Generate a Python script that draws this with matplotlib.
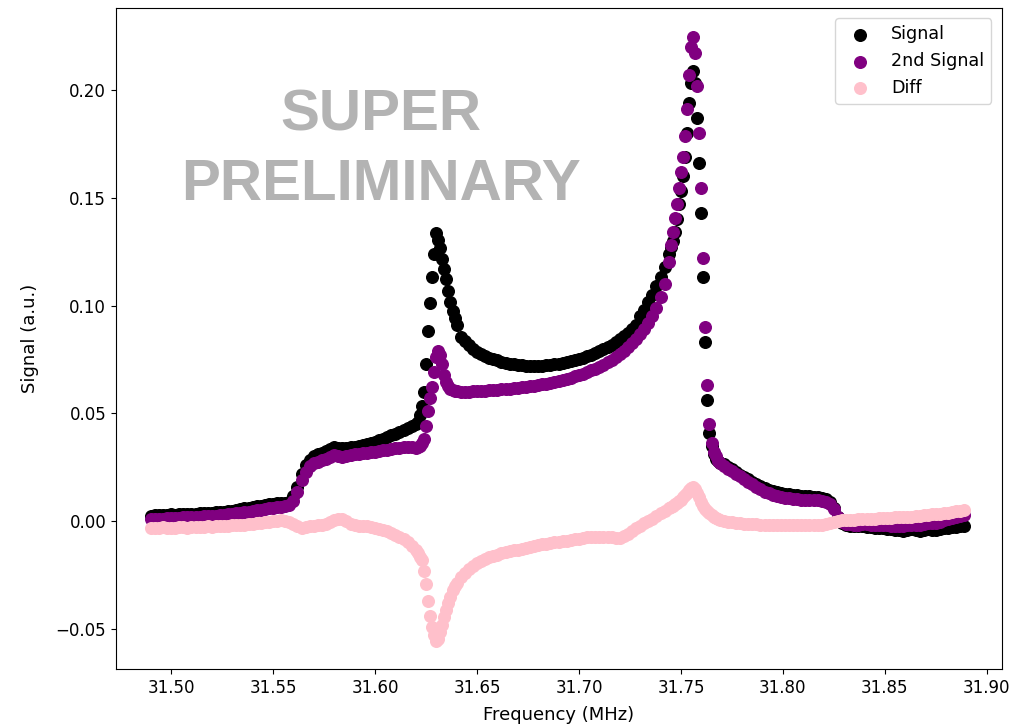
import numpy as np
import matplotlib
matplotlib.use("Agg")
import matplotlib.pyplot as plt

# frequency grid (MHz): coarse where flat, fine around the two resonances
freq = np.round(np.concatenate([
    np.arange(31.490, 31.6201, 0.002),   # 66
    np.arange(31.621, 31.6401, 0.001),   # 20
    np.arange(31.642, 31.7441, 0.002),   # 52
    np.arange(31.745, 31.7691, 0.001),   # 25
    np.arange(31.771, 31.8891, 0.002),   # 60
]), 3)

signal = [
    # 31.490 - 31.620
    0.0025, 0.0027, 0.0028, 0.0029, 0.0030, 0.0031, 0.0030, 0.0032, 0.0033, 0.0032,
    0.0034, 0.0035, 0.0036, 0.0037, 0.0036, 0.0038, 0.0040, 0.0042, 0.0043, 0.0045,
    0.0048, 0.0052, 0.0056, 0.0060, 0.0063, 0.0066, 0.0069, 0.0072, 0.0075, 0.0078,
    0.0080, 0.0082, 0.0084, 0.0086, 0.0090, 0.0115, 0.0160, 0.0220, 0.0260, 0.0285,
    0.0300, 0.0310, 0.0318, 0.0325, 0.0335, 0.0345, 0.0340, 0.0338, 0.0340, 0.0342,
    0.0345, 0.0348, 0.0352, 0.0356, 0.0362, 0.0368, 0.0374, 0.0382, 0.0390, 0.0398,
    0.0405, 0.0413, 0.0422, 0.0430, 0.0440, 0.0450,
    # 31.621 - 31.640
    0.0460, 0.0490, 0.0535, 0.0600, 0.0730, 0.0880, 0.1010, 0.1130, 0.1240, 0.1336,
    0.1305, 0.1265, 0.1215, 0.1170, 0.1125, 0.1065, 0.1015, 0.0975, 0.0940, 0.0910,
    # 31.642 - 31.744
    0.0855, 0.0835, 0.0815, 0.0800, 0.0785, 0.0775, 0.0765, 0.0757, 0.0750, 0.0745,
    0.0740, 0.0735, 0.0730, 0.0727, 0.0724, 0.0722, 0.0720, 0.0720, 0.0719, 0.0720,
    0.0721, 0.0722, 0.0724, 0.0727, 0.0730, 0.0733, 0.0737, 0.0742, 0.0747, 0.0752,
    0.0758, 0.0765, 0.0772, 0.0780, 0.0788, 0.0797, 0.0807, 0.0818, 0.0830, 0.0843,
    0.0857, 0.0872, 0.0890, 0.0910, 0.0950, 0.0980, 0.1015, 0.1050, 0.1090, 0.1130,
    0.1180, 0.1240,
    # 31.745 - 31.769
    0.1270, 0.1300, 0.1340, 0.1400, 0.1470, 0.1530, 0.1600, 0.1690, 0.1800, 0.1940,
    0.2030, 0.2090, 0.2030, 0.1870, 0.1660, 0.1430, 0.1130, 0.0830, 0.0560, 0.0410,
    0.0350, 0.0310, 0.0290, 0.0280, 0.0270,
    # 31.771 - 31.889
    0.0265, 0.0253, 0.0240, 0.0228, 0.0216, 0.0204, 0.0193, 0.0182, 0.0172, 0.0162,
    0.0153, 0.0146, 0.0140, 0.0135, 0.0130, 0.0127, 0.0124, 0.0122, 0.0120, 0.0118,
    0.0117, 0.0115, 0.0113, 0.0111, 0.0108, 0.0104, 0.0090, 0.0060, 0.0020, -0.0010,
    -0.0020, -0.0022, -0.0024, -0.0025, -0.0024, -0.0026, -0.0028, -0.0030, -0.0032, -0.0034,
    -0.0036, -0.0038, -0.0040, -0.0042, -0.0044, -0.0040, -0.0038, -0.0042, -0.0045, -0.0040,
    -0.0036, -0.0040, -0.0043, -0.0038, -0.0034, -0.0030, -0.0028, -0.0026, -0.0025, -0.0022,
]

signal2 = [
    # 31.490 - 31.620
    0.0008, 0.0010, 0.0011, 0.0012, 0.0013, 0.0014, 0.0015, 0.0016, 0.0017, 0.0018,
    0.0019, 0.0020, 0.0021, 0.0022, 0.0023, 0.0024, 0.0026, 0.0028, 0.0030, 0.0032,
    0.0034, 0.0036, 0.0038, 0.0041, 0.0044, 0.0047, 0.0050, 0.0053, 0.0056, 0.0059,
    0.0062, 0.0065, 0.0067, 0.0069, 0.0075, 0.0095, 0.0135, 0.0190, 0.0230, 0.0255,
    0.0268, 0.0276, 0.0283, 0.0290, 0.0297, 0.0305, 0.0300, 0.0298, 0.0302, 0.0306,
    0.0309, 0.0312, 0.0314, 0.0316, 0.0319, 0.0322, 0.0325, 0.0328, 0.0331, 0.0334,
    0.0337, 0.0340, 0.0343, 0.0344, 0.0343, 0.0341,
    # 31.621 - 31.640
    0.0345, 0.0350, 0.0360, 0.0380, 0.0440, 0.0510, 0.0570, 0.0620, 0.0690, 0.0760,
    0.0790, 0.0770, 0.0730, 0.0680, 0.0645, 0.0625, 0.0615, 0.0610, 0.0605, 0.0602,
    # 31.642 - 31.744
    0.0600, 0.0600, 0.0601, 0.0602, 0.0603, 0.0604, 0.0605, 0.0606, 0.0607, 0.0609,
    0.0611, 0.0613, 0.0615, 0.0617, 0.0619, 0.0621, 0.0623, 0.0625, 0.0628, 0.0631,
    0.0634, 0.0637, 0.0641, 0.0645, 0.0650, 0.0655, 0.0660, 0.0665, 0.0671, 0.0677,
    0.0684, 0.0691, 0.0699, 0.0707, 0.0716, 0.0726, 0.0737, 0.0749, 0.0762, 0.0776,
    0.0791, 0.0808, 0.0826, 0.0846, 0.0868, 0.0892, 0.0918, 0.0950, 0.0990, 0.1040,
    0.1100, 0.1200,
    # 31.745 - 31.769
    0.1280, 0.1340, 0.1405, 0.1470, 0.1545, 0.1620, 0.1690, 0.1786, 0.1910, 0.2070,
    0.2200, 0.2245, 0.2170, 0.2020, 0.1800, 0.1545, 0.1220, 0.0900, 0.0630, 0.0450,
    0.0360, 0.0320, 0.0300, 0.0280, 0.0270,
    # 31.771 - 31.889
    0.0255, 0.0243, 0.0231, 0.0219, 0.0207, 0.0194, 0.0182, 0.0170, 0.0158, 0.0147,
    0.0137, 0.0129, 0.0122, 0.0117, 0.0112, 0.0108, 0.0105, 0.0103, 0.0101, 0.0100,
    0.0099, 0.0098, 0.0097, 0.0096, 0.0094, 0.0090, 0.0080, 0.0055, 0.0020, -0.0005,
    -0.0014, -0.0015, -0.0016, -0.0016, -0.0015, -0.0015, -0.0016, -0.0017, -0.0018, -0.0019,
    -0.0020, -0.0021, -0.0022, -0.0023, -0.0024, -0.0019, -0.0016, -0.0018, -0.0020, -0.0013,
    -0.0007, -0.0009, -0.0010, -0.0003, 0.0003, 0.0009, 0.0014, 0.0019, 0.0023, 0.0028,
]

diff = [
    # 31.490 - 31.620
    -0.0030, -0.0031, -0.0030, -0.0029, -0.0030, -0.0031, -0.0030, -0.0028, -0.0029, -0.0030,
    -0.0029, -0.0028, -0.0027, -0.0026, -0.0025, -0.0026, -0.0024, -0.0023, -0.0022, -0.0021,
    -0.0020, -0.0019, -0.0018, -0.0016, -0.0015, -0.0013, -0.0011, -0.0008, -0.0005, -0.0003,
    0.0000, 0.0002, 0.0003, 0.0002, -0.0005, -0.0015, -0.0025, -0.0030, -0.0028, -0.0025,
    -0.0022, -0.0020, -0.0018, -0.0012, -0.0005, 0.0005, 0.0012, 0.0010, 0.0000, -0.0015,
    -0.0020, -0.0022, -0.0023, -0.0025, -0.0028, -0.0032, -0.0036, -0.0042, -0.0048, -0.0055,
    -0.0063, -0.0072, -0.0083, -0.0097, -0.0114, -0.0135,
    # 31.621 - 31.640
    -0.0150, -0.0165, -0.0180, -0.0230, -0.0290, -0.0370, -0.0440, -0.0490, -0.0530, -0.0555,
    -0.0545, -0.0515, -0.0480, -0.0445, -0.0410, -0.0380, -0.0350, -0.0320, -0.0300, -0.0285,
    # 31.642 - 31.744
    -0.0260, -0.0240, -0.0222, -0.0207, -0.0195, -0.0185, -0.0176, -0.0168, -0.0161, -0.0155,
    -0.0150, -0.0145, -0.0140, -0.0136, -0.0132, -0.0128, -0.0124, -0.0120, -0.0116, -0.0112,
    -0.0108, -0.0105, -0.0102, -0.0099, -0.0096, -0.0093, -0.0090, -0.0087, -0.0084, -0.0081,
    -0.0078, -0.0076, -0.0074, -0.0073, -0.0072, -0.0072, -0.0073, -0.0075, -0.0078, -0.0080,
    -0.0070, -0.0058, -0.0045, -0.0033, -0.0022, -0.0010, 0.0000, 0.0012, 0.0024, 0.0036,
    0.0048, 0.0060,
    # 31.745 - 31.769
    0.0066, 0.0072, 0.0078, 0.0085, 0.0092, 0.0100, 0.0110, 0.0120, 0.0132, 0.0145,
    0.0155, 0.0158, 0.0148, 0.0130, 0.0110, 0.0090, 0.0072, 0.0058, 0.0046, 0.0036,
    0.0028, 0.0021, 0.0015, 0.0010, 0.0006,
    # 31.771 - 31.889
    0.0002, -0.0002, -0.0005, -0.0008, -0.0010, -0.0012, -0.0013, -0.0014, -0.0015, -0.0016,
    -0.0017, -0.0018, -0.0018, -0.0019, -0.0019, -0.0020, -0.0020, -0.0020, -0.0020, -0.0019,
    -0.0019, -0.0018, -0.0018, -0.0017, -0.0016, -0.0014, -0.0010, -0.0005, 0.0000, 0.0003,
    0.0005, 0.0006, 0.0007, 0.0008, 0.0009, 0.0010, 0.0011, 0.0012, 0.0013, 0.0014,
    0.0015, 0.0016, 0.0017, 0.0018, 0.0019, 0.0020, 0.0021, 0.0023, 0.0025, 0.0027,
    0.0029, 0.0031, 0.0033, 0.0035, 0.0037, 0.0039, 0.0042, 0.0045, 0.0048, 0.0050,
]

assert len(freq) == len(signal) == len(signal2) == len(diff), (len(freq), len(signal), len(signal2), len(diff))


def main():
    fig = plt.figure(figsize=(10.19, 7.26), dpi=100)
    ax = fig.add_axes([0.1138, 0.0785, 0.8695, 0.9105])

    ax.scatter(freq, signal, s=70, color="black", label="Signal")
    ax.scatter(freq, signal2, s=70, color="purple", label="2nd Signal")
    ax.scatter(freq, diff, s=70, color="pink", label="Diff")

    ax.set_xlim(31.473, 31.9074)
    ax.set_ylim(-0.0686, 0.238)
    ax.set_xticks([31.50, 31.55, 31.60, 31.65, 31.70, 31.75, 31.80, 31.85, 31.90])
    ax.set_yticks([-0.05, 0.00, 0.05, 0.10, 0.15, 0.20])
    ax.tick_params(labelsize=12)
    ax.set_xlabel("Frequency (MHz)", fontsize=13, labelpad=7)
    ax.set_ylabel("Signal (a.u.)", fontsize=13, labelpad=12)
    ax.legend(loc="upper right", fontsize=12.6, borderaxespad=0.6)

    ax.text(31.603, 0.172, "SUPER\nPRELIMINARY", ha="center", va="center",
            fontsize=42, fontweight="bold", color="#b3b3b3",
            family="Liberation Sans", linespacing=1.38)

    fig.savefig("out.png", dpi=100)


if __name__ == "__main__":
    main()
